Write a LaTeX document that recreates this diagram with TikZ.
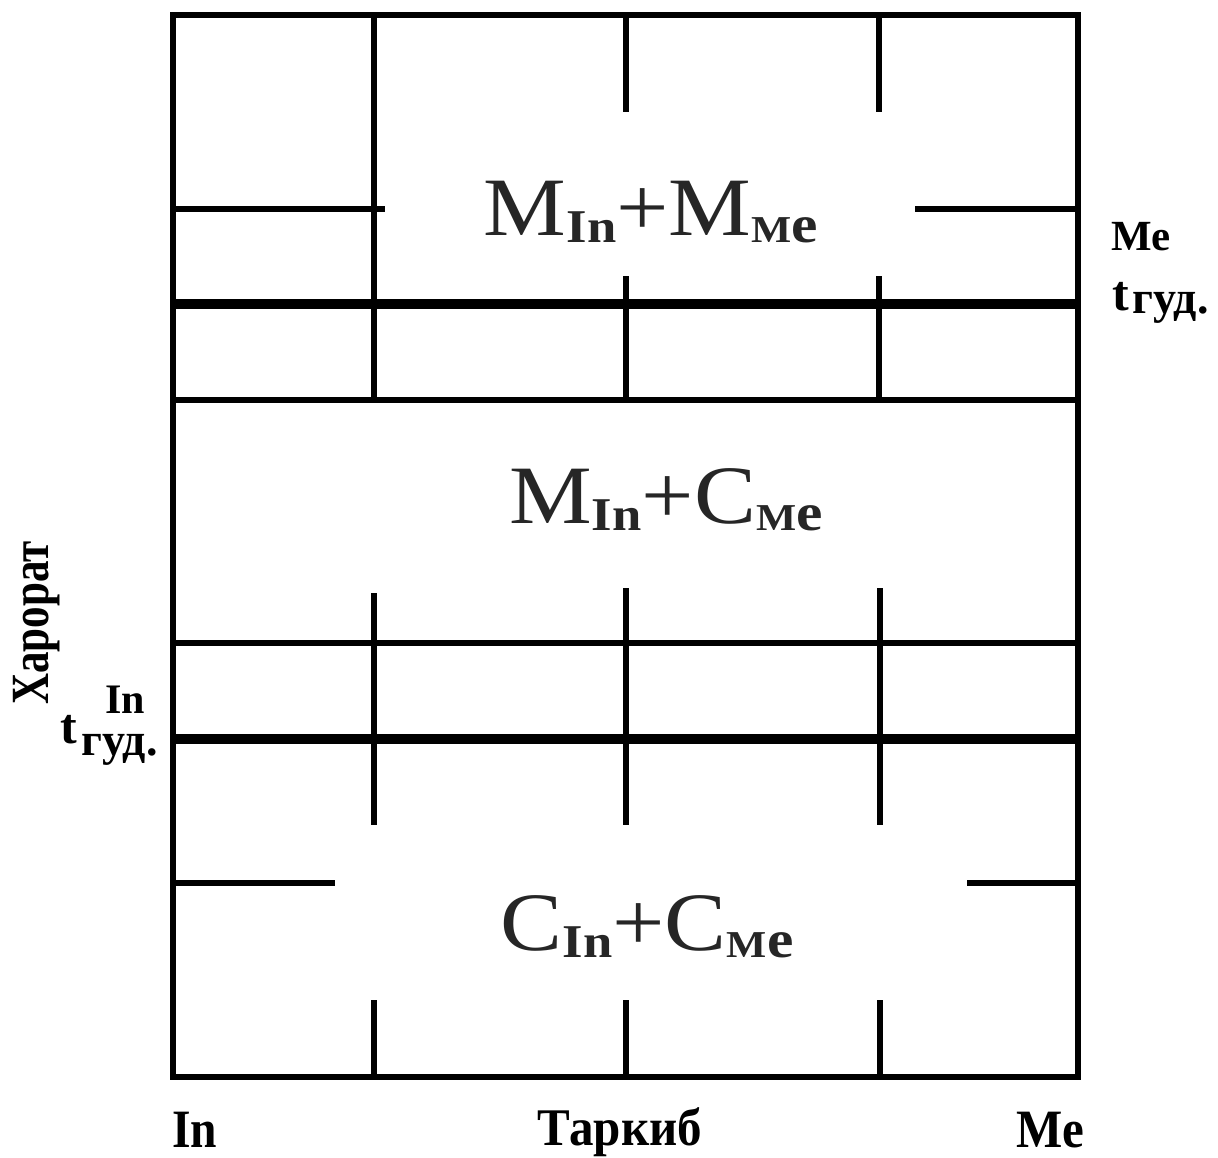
\documentclass[tikz,border=0pt]{standalone}
\usepackage{fontspec}
\setmainfont{Liberation Serif}

% phase labels: large letters with small bold subscripts
\newcommand\phaseletter[1]{{\fontsize{83}{90}\selectfont #1}}
\newcommand\phasesub[1]{\raisebox{-7pt}{\bfseries #1}}
\newcommand\subIn{\phasesub{\fontsize{47}{50}\selectfont In}}
\newcommand\subMe{\phasesub{{\fontsize{38}{40}\selectfont M}{\fontsize{53}{55}\selectfont e}}}
\newcommand\phaselabel[1]{\scalebox{1.12}[1]{#1}}

\begin{document}
\begin{tikzpicture}[x=1pt,y=-1pt,
  thinrule/.style={line width=5.2pt},
  thickrule/.style={line width=10pt},
  region/.style={inner sep=0pt, anchor=base, text=black!85},
  axislabel/.style={inner sep=0pt, text=black}]
\useasboundingbox (0,0) rectangle (1218,1157);

% outer frame
\draw[thinrule] (173,15) rectangle (1078,1077);

% upper band
\draw[thinrule] (173,209) -- (385,209);
\draw[thinrule] (915,209) -- (1078,209);
\draw[thickrule] (173,304) -- (1078,304);
\draw[thinrule] (173,400) -- (1078,400);
\draw[thinrule] (374,15) -- (374,400);
\foreach \x in {626,879} {
  \draw[thinrule] (\x,15) -- (\x,112);
  \draw[thinrule] (\x,276) -- (\x,400);
}

% middle band
\draw[thinrule] (173,643) -- (1078,643);
\draw[thickrule] (173,739) -- (1078,739);
\draw[thinrule] (374,593) -- (374,825);
\draw[thinrule] (626,588) -- (626,825);
\draw[thinrule] (880,588) -- (880,825);

% lower band
\draw[thinrule] (173,883) -- (335,883);
\draw[thinrule] (967,883) -- (1078,883);
\foreach \x in {374,626,880} {
  \draw[thinrule] (\x,1000) -- (\x,1077);
}

% phase fields
\node[region] (mm) at (651,235) {\phaselabel{\phaseletter{M}\subIn\phaseletter{+}\phaseletter{M}\subMe}};
\node[region] (mc) at (666,523) {\phaselabel{\phaseletter{M}\subIn\phaseletter{+}\phaseletter{C}\subMe}};
\node[region] (cc) at (647,950) {\phaselabel{\phaseletter{C}\subIn\phaseletter{+}\phaseletter{C}\subMe}};

% composition axis
\node[axislabel, anchor=base west, font={\bfseries\fontsize{50}{55}\selectfont}] (xin) at (172,1147) {\scalebox{0.95}[1.08]{In}};
\node[axislabel, anchor=base, font={\bfseries\fontsize{49}{55}\selectfont}] (xmid) at (620,1145) {\scalebox{1}[1.08]{Таркиб}};
\node[axislabel, anchor=base west, font={\bfseries\fontsize{50}{55}\selectfont}] (xme) at (1016,1147) {\scalebox{0.98}[1.08]{Me}};

% melting temperatures
\node[axislabel, anchor=base west, font={\bfseries\fontsize{43}{46}\selectfont}] (mename) at (1111,250) {Me};
\node[axislabel, anchor=base west, font={\bfseries\fontsize{50}{54}\selectfont}] (metemp) at (1112,310)
  {t\hspace{4pt}\raisebox{-3pt}{\fontsize{46}{50}\selectfont гуд.}};
\node[axislabel, anchor=base west, font={\bfseries\fontsize{42}{46}\selectfont}] (inname) at (105,713) {In};
\node[axislabel, anchor=base west, font={\bfseries\fontsize{50}{54}\selectfont}] (intemp) at (60,743)
  {t\hspace{5pt}\raisebox{-12pt}{\fontsize{46}{50}\selectfont гуд.}};

% temperature axis
\node[axislabel, anchor=base, rotate=90, font={\bfseries\fontsize{43}{46}\selectfont}] (yaxis) at (48,623) {\scalebox{1}[1.25]{Харорат}};
\end{tikzpicture}
\end{document}
